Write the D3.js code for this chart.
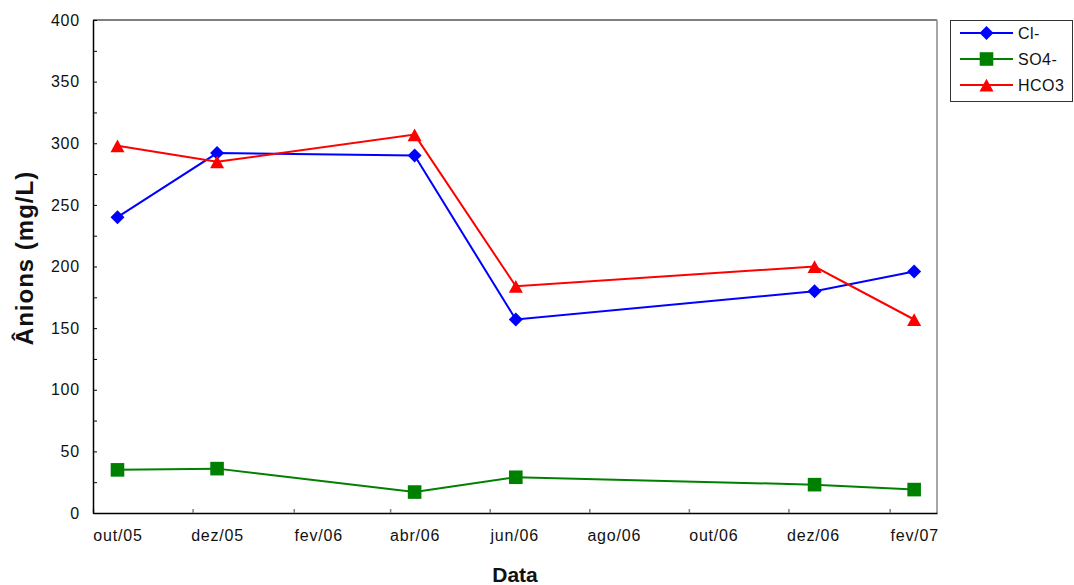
<!DOCTYPE html>
<html>
<head>
<meta charset="utf-8">
<script src="https://cdn.jsdelivr.net/npm/d3@7"></script>
<style>
  html, body { margin: 0; padding: 0; background: #fff; }
  svg { display: block; }
  text { font-family: "Liberation Sans", Arial, sans-serif; fill: #111; }
</style>
</head>
<body>
<svg id="chart" width="1074" height="585"></svg>
<script>
// Sampling dates (mid-month collections)
const sampleDates = ["2005-10-16", "2005-12-16", "2006-04-16", "2006-06-17", "2006-12-17", "2007-02-16"];
// Anion concentrations, mg/L
const chloride    = [240, 292, 290, 157, 180, 196];
const sulfate     = [35, 36, 17, 29, 23, 19];
const bicarbonate = [298, 285, 307, 184, 200, 157];
// Axis labels
const monthLabels = ["out/05", "dez/05", "fev/06", "abr/06", "jun/06", "ago/06", "out/06", "dez/06", "fev/07"];
const yTicks = [0, 25, 50, 75, 100, 125, 150, 175, 200, 225, 250, 275, 300, 325, 350, 375, 400];
const seriesNames = ["Cl-", "SO4-", "HCO3"];

const parse = d3.utcParse("%Y-%m-%d");
const svg = d3.select("#chart");

const plot = { left: 93, right: 937, top: 20, bottom: 513 };

const x = d3.scaleUtc()
  .domain([parse("2005-10-01"), parse("2007-03-02")])
  .range([plot.left, plot.right]);
const y = d3.scaleLinear()
  .domain([0, 400])
  .range([plot.bottom, plot.top]);

const series = [
  { name: seriesNames[0], values: chloride,    color: "#0000ff", shape: "diamond" },
  { name: seriesNames[1], values: sulfate,     color: "#008000", shape: "square" },
  { name: seriesNames[2], values: bicarbonate, color: "#ff0000", shape: "triangle" }
];

function markerPath(shape) {
  if (shape === "diamond") return "M0,-7L7,0L0,7L-7,0Z";
  if (shape === "square") return "M-6.8,-6.8H6.8V6.8H-6.8Z";
  return "M0,-6.2L7,6.6L-7,6.6Z";
}

// Frame: top (black) and right (gray)
svg.append("line")
  .attr("x1", plot.left).attr("x2", plot.right)
  .attr("y1", plot.top).attr("y2", plot.top)
  .attr("stroke", "#000").attr("stroke-width", 1);
svg.append("line")
  .attr("x1", plot.right).attr("x2", plot.right)
  .attr("y1", plot.top).attr("y2", plot.bottom)
  .attr("stroke", "#888").attr("stroke-width", 1.5);

// X axis: ticks at the start of every second month from October 2005, labels at mid-month
const tickDates = d3.utcMonth.range(parse("2005-10-01"), parse("2007-03-01"), 2);
const xAxis = d3.axisBottom(x)
  .tickValues(tickDates)
  .tickSizeInner(-4)
  .tickSizeOuter(0)
  .tickPadding(17)
  .tickFormat((d, i) => monthLabels[i]);
const gx = svg.append("g")
  .attr("transform", `translate(0,${plot.bottom})`)
  .call(xAxis);
gx.select(".domain").attr("stroke", "#000").attr("stroke-width", 1.5);
gx.selectAll(".tick line").attr("stroke", "#808080").attr("stroke-width", 1.5);
gx.selectAll(".tick text")
  .attr("x", d => x(d3.utcDay.offset(d, 15)) - x(d))
  .attr("font-size", 16)
  .attr("letter-spacing", "0.8px")
  .attr("font-family", "Liberation Sans, Arial, sans-serif")
  .attr("fill", "#111");

// Y axis: inward ticks every 25, labels every 50
const yAxis = d3.axisLeft(y)
  .tickValues(yTicks)
  .tickSizeInner(-4)
  .tickSizeOuter(0)
  .tickPadding(13)
  .tickFormat(d => d % 50 === 0 ? d : "");
const gy = svg.append("g")
  .attr("transform", `translate(${plot.left},0)`)
  .call(yAxis);
gy.select(".domain").attr("stroke", "#000").attr("stroke-width", 1.5);
gy.selectAll(".tick line").attr("stroke", "#000").attr("stroke-width", 1);
gy.selectAll(".tick text")
  .attr("font-size", 16)
  .attr("letter-spacing", "0.8px")
  .attr("font-family", "Liberation Sans, Arial, sans-serif")
  .attr("fill", "#111");

// Axis titles
svg.append("text")
  .attr("x", (plot.left + plot.right) / 2)
  .attr("y", 582)
  .attr("text-anchor", "middle")
  .attr("font-size", 21)
  .attr("font-weight", "bold")
  .text("Data");
svg.append("text")
  .attr("transform", "translate(33,258) rotate(-90)")
  .attr("text-anchor", "middle")
  .attr("font-size", 24)
  .attr("letter-spacing", "1px")
  .attr("font-weight", "bold")
  .text("Ânions (mg/L)");

// Series lines and markers
const line = d3.line()
  .x((d, i) => x(parse(sampleDates[i])))
  .y(d => y(d));

series.forEach(s => {
  const g = svg.append("g");
  g.append("path")
    .attr("d", line(s.values))
    .attr("fill", "none")
    .attr("stroke", s.color)
    .attr("stroke-width", 2);
  g.selectAll("path.marker")
    .data(s.values)
    .join("path")
    .attr("class", "marker")
    .attr("d", markerPath(s.shape))
    .attr("transform", (d, i) => `translate(${x(parse(sampleDates[i]))},${y(d)})`)
    .attr("fill", s.color);
});

// Legend
const legend = svg.append("g");
legend.append("rect")
  .attr("x", 950.5).attr("y", 20.5)
  .attr("width", 122).attr("height", 81)
  .attr("fill", "#fff")
  .attr("stroke", "#333").attr("stroke-width", 1);
series.forEach((s, i) => {
  const ly = 33 + i * 26;
  legend.append("line")
    .attr("x1", 960).attr("x2", 1013)
    .attr("y1", ly).attr("y2", ly)
    .attr("stroke", s.color).attr("stroke-width", 2);
  legend.append("path")
    .attr("d", markerPath(s.shape))
    .attr("transform", `translate(986.5,${ly})`)
    .attr("fill", s.color);
  legend.append("text")
    .attr("x", 1018).attr("y", ly + 5.5)
    .attr("font-size", 16)
    .attr("letter-spacing", "0.5px")
    .text(s.name);
});
</script>
</body>
</html>
